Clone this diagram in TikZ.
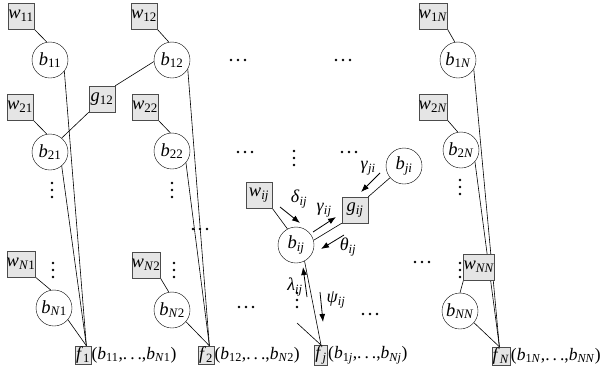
\documentclass[tikz,border=0pt]{standalone}
\usepackage{fontspec}
\setmainfont{Liberation Serif}
\usetikzlibrary{arrows.meta,calc}
\pgfdeclarelayer{bg}
\pgfsetlayers{bg,main}
\newcommand\V[2]{\textit{#1}\textsubscript{#2}}
\newcommand\I[1]{\textit{#1}}
\newcommand\dts{.\kern3pt.\kern3pt.}
\begin{document}
\begin{tikzpicture}[x=1pt,y=-1pt,
  wbox/.style={draw=black!70,fill=black!10,minimum width=26pt,minimum height=26pt,inner sep=0pt,font=\fontsize{18.5}{18}\selectfont},
  cnode/.style={draw,circle,minimum size=36pt,inner sep=0pt,fill=white,font=\fontsize{18.5}{18}\selectfont},
  fbox/.style={draw=black!70,fill=black!10,inner sep=0.8pt,minimum height=16pt,font=\fontsize{18}{18}\selectfont},
  flab/.style={anchor=west,inner sep=0.5pt,font=\fontsize{17.5}{18}\selectfont},
  lk/.style={line width=0.6pt},
  ar/.style={line width=0.8pt,-{Latex[length=8pt,width=6pt]}},
  glab/.style={inner sep=0pt,font=\fontsize{18}{18}\selectfont},
  hdts/.pic={\fill (-7,0) circle (1.3) (0,0) circle (1.3) (7,0) circle (1.3);},
  vdts/.pic={\fill (0,-7) circle (1.3) (0,0) circle (1.3) (0,7) circle (1.3);}]
\useasboundingbox (0,0) rectangle (601,373);
% column 1
\node[wbox] (w11) at (21,16) {\V{w}{11}};
\node[cnode] (b11) at (50,60) {\V{b}{11}};
\node[wbox] (w21) at (20,107) {\V{w}{21}};
\node[cnode] (b21) at (50,152) {\V{b}{21}};
\node[wbox] (g12) at (102,99) {\V{g}{12}};
\node[wbox] (wN1) at (21,264) {\V{w}{\I{N}1}};
\node[cnode] (bN1) at (54,308) {\V{b}{\I{N}1}};
\node[fbox] (f1) at (83,355) {\V{f}{1}};
\node[flab] (l1) at (f1.east) {(\V{b}{11},\dts,\V{b}{\I{N}1})};
% column 2
\node[wbox] (w12) at (144,16) {\V{w}{12}};
\node[cnode] (b12) at (172,60) {\V{b}{12}};
\node[wbox] (w22) at (145,107) {\V{w}{22}};
\node[cnode] (b22) at (172,151) {\V{b}{22}};
\node[wbox] (wN2) at (146,265) {\V{w}{\I{N}2}};
\node[cnode] (bN2) at (172,310) {\V{b}{\I{N}2}};
\node[fbox] (f2) at (206,355) {\V{f}{2}};
\node[flab] (l2) at (f2.east) {(\V{b}{12},\dts,\V{b}{\I{N}2})};
% middle
\node[wbox] (wij) at (259,195) {\V{w}{\I{ij}}};
\node[wbox] (gij) at (355,210) {\V{g}{\I{ij}}};
\node[cnode] (bij) at (296,245) {\V{b}{\I{ij}}};
\node[cnode] (bji) at (404,166) {\V{b}{\I{ji}}};
\node[fbox] (fj) at (321,355) {\V{f}{\I{j}}};
\node[flab] (lj) at (fj.east) {(\V{b}{1\I{j}},\dts,\V{b}{\I{Nj}})};
\coordinate (fjin) at (297,323);
% column N
\node[wbox] (w1N) at (433,16) {\V{w}{1\I{N}}};
\node[cnode] (b1N) at (458,60) {\V{b}{1\I{N}}};
\node[wbox] (w2N) at (433,107) {\V{w}{2\I{N}}};
\node[cnode] (b2N) at (461,150) {\V{b}{2\I{N}}};
\node[wbox] (wNN) at (479,267) {\V{w}{\I{NN}}};
\node[cnode] (bNN) at (460,311) {\V{b}{\I{NN}}};
\node[fbox] (fN) at (501,356) {\V{f}{\I{N}}};
\node[flab] (lN) at (fN.east) {(\V{b}{1\I{N}},\dts,\V{b}{\I{NN}})};
\begin{pgfonlayer}{bg}
\draw[lk] (w11.south east) -- (b11.100);
\draw[lk] (w21.south east) -- (b21.100);
\draw[lk] (wN1.south east) -- (bN1.100);
\draw[lk] (b11.-38) -- (f1.70);
\draw[lk] (b21.-50) -- (f1.70);
\draw[lk] (bN1.-40) -- (f1.70);
\draw[lk] (g12.north east) -- (b12.185);
\draw[lk] (g12.south west) -- (b21.50);
\draw[lk] (w12.south east) -- (b12.100);
\draw[lk] (w22.south east) -- (b22.95);
\draw[lk] (wN2.south east) -- (bN2.100);
\draw[lk] (b12.-30) -- (f2.70);
\draw[lk] (b22.-40) -- (f2.70);
\draw[lk] (bN2.-40) -- (f2.70);
\draw[lk] (wij.south east) -- (bij.118);
\draw[lk] (gij.south west) -- (bij.15);
\draw[lk] (bji.220) -- (gij.north east);
\draw[lk] (bij.-62) -- (fj.north);
\draw[lk] (fjin) -- (fj.north);
\draw[lk] (w1N.south east) -- (b1N.100);
\draw[lk] (w2N.south east) -- (b2N.100);
\draw[lk] (wNN.south west) -- (bNN.north);
\draw[lk] (b1N.-30) -- (fN.100);
\draw[lk] (b2N.-40) -- (fN.100);
\draw[lk] (bNN.-40) -- (fN.100);
\end{pgfonlayer}
% arrows
\draw[ar] (280,207) -- (300,223);
\draw[ar] (313,232) -- (336,217);
\draw[ar] (344,235) -- (321,249);
\draw[ar] (380,173) -- (361,192);
\draw[ar] (307,297) -- (303,267);
\draw[ar] (320,292) -- (323,322);
\node[glab] (ld) at (299,199) {\V{δ}{\I{ij}}};
\node[glab] (lg) at (324,210) {\V{γ}{\I{ij}}};
\node[glab] (lt) at (348,247) {\V{θ}{\I{ij}}};
\node[glab] (lgj) at (368,168) {\V{γ}{\I{ji}}};
\node[glab] (ll) at (295,287) {\V{λ}{\I{ij}}};
\node[glab] (lp) at (336,300) {\V{ψ}{\I{ij}}};
% dots
\pic at (52,190) {vdts};
\pic at (172,190) {vdts};
\pic at (53,270) {vdts};
\pic at (174,270) {vdts};
\pic at (294,158) {vdts};
\pic at (297,300) {vdts};
\pic at (460,187) {vdts};
\pic at (460,270) {vdts};
\pic at (238,60) {hdts};
\pic at (343,60) {hdts};
\pic at (245,152) {hdts};
\pic at (349,152) {hdts};
\pic at (200,229) {hdts};
\pic at (246,307) {hdts};
\pic at (370,314) {hdts};
\pic at (422,262) {hdts};
\end{tikzpicture}
\end{document}
